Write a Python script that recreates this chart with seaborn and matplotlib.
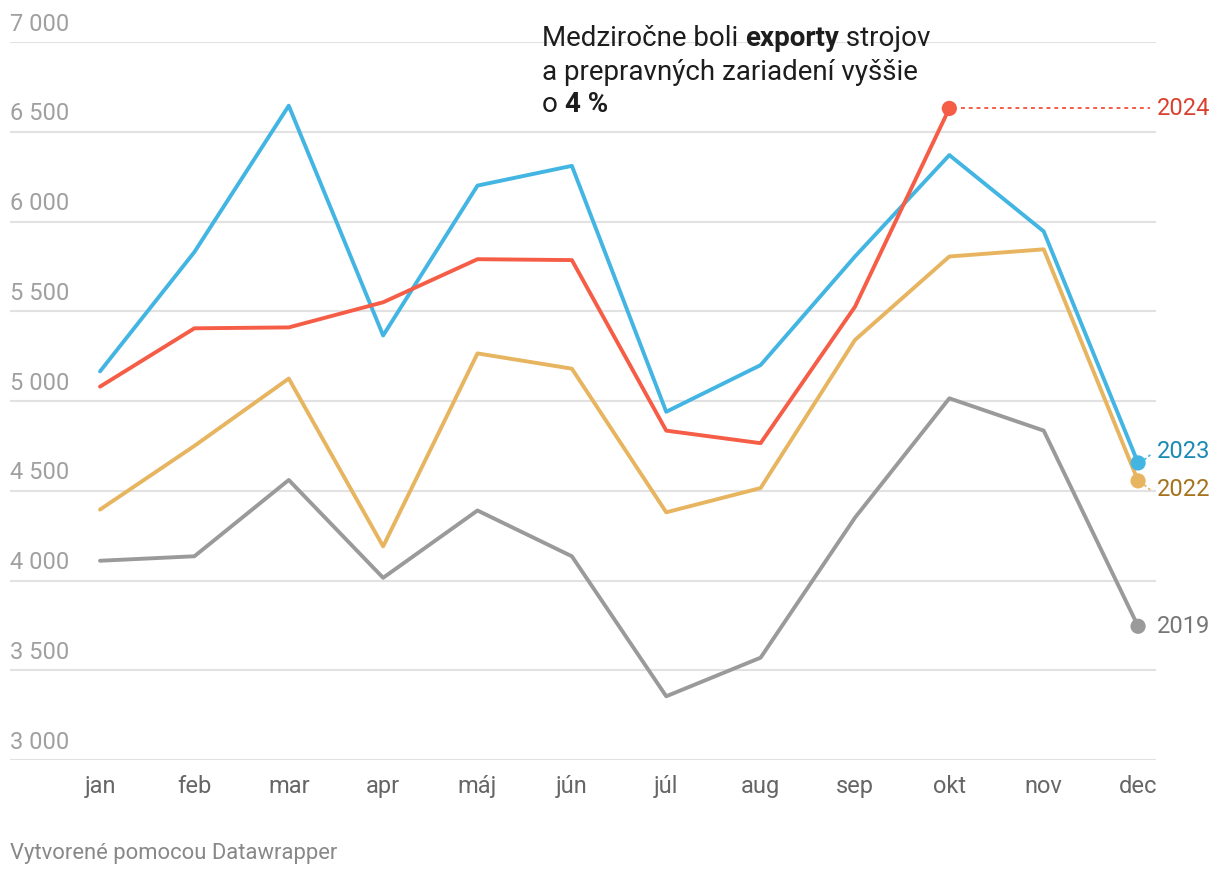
import pandas as pd
import numpy as np
import matplotlib.pyplot as plt
import matplotlib.transforms as mtransforms
import seaborn as sns

sns.set_theme(style='white')
plt.rcParams['font.family'] = ['Roboto', 'DejaVu Sans']

## Data
months = ['jan', 'feb', 'mar', 'apr', 'máj', 'jún', 'júl', 'aug', 'sep', 'okt', 'nov', 'dec']
y2019 = [4110, 4135, 4560, 4015, 4390, 4135, 3355, 3570, 4350, 5015, 4835, 3745]
y2022 = [4395, 4750, 5125, 4190, 5265, 5180, 4380, 4515, 5340, 5805, 5845, 4555]
y2023 = [5165, 5830, 6645, 5365, 6200, 6310, 4940, 5200, 5805, 6370, 5945, 4655]
y2024 = [5080, 5405, 5410, 5550, 5790, 5785, 4835, 4765, 5525, 6630, np.nan, np.nan]
yticks = [3000, 3500, 4000, 4500, 5000, 5500, 6000, 6500, 7000]

colors = {'2019': '#9a9a9a', '2022': '#e7b460', '2023': '#43b5e3', '2024': '#f55d46'}
label_colors = {'2019': '#777777', '2022': '#a6731d', '2023': '#1a8ab5', '2024': '#d9412f'}

rows = []
for year, vals in [('2019', y2019), ('2022', y2022), ('2023', y2023), ('2024', y2024)]:
    for i, v in enumerate(vals):
        rows.append({'month': i, 'value': v, 'year': year})
df = pd.DataFrame(rows).dropna()

fig = plt.figure(figsize=(12.2, 8.76), dpi=100)
ax = fig.add_axes([10 / 1220, 116 / 876, 1146 / 1220, 718 / 876])

# gridlines
for t in yticks:
    ax.axhline(t, color='#e2e2e2', lw=1.5, zorder=0)

sns.lineplot(data=df, x='month', y='value', hue='year', palette=colors,
             hue_order=['2019', '2022', '2023', '2024'], lw=2.8, ax=ax,
             legend=False, clip_on=False, zorder=3)

ax.set_xlim(-0.954, 11.19)
ax.set_ylim(3000, 7000)
ax.axis('off')

# y tick labels above gridlines
trans = mtransforms.blended_transform_factory(ax.transAxes, ax.transData)
for t in yticks:
    lab = f'{t:,}'.replace(',', ' ')
    ax.text(0, t + 35, lab, transform=trans, ha='left', va='bottom',
            fontsize=17, color='#a0a0a0')

# x tick labels
for i, m in enumerate(months):
    ax.text(i, 2855, m, ha='center', va='center', fontsize=17, color='#666666',
            clip_on=False)

# end points
ends = {'2019': (11, y2019[11]), '2022': (11, y2022[11]),
        '2023': (11, y2023[11]), '2024': (9, y2024[9])}
for yr, (xi, v) in ends.items():
    ax.scatter([xi], [v], s=120, color=colors[yr], zorder=5, clip_on=False,
               edgecolor='none')

# 2024 dotted leader
ax.plot([9.12, 11.13], [y2024[9], y2024[9]], ls=(0, (2, 2)), lw=1.4,
        color=colors['2024'], clip_on=False, zorder=2)
ax.text(11.2, y2024[9], '2024', fontsize=17, color=label_colors['2024'],
        va='center', ha='left')

# small connectors for 2023 / 2022
ax.plot([11.06, 11.13], [4670, 4700], lw=1.2, ls=(0, (2, 1.5)), color=colors['2023'], clip_on=False)
ax.plot([11.06, 11.13], [4535, 4505], lw=1.2, ls=(0, (2, 1.5)), color=colors['2022'], clip_on=False)
ax.text(11.2, 4720, '2023', fontsize=17, color=label_colors['2023'], va='center', ha='left')
ax.text(11.2, 4505, '2022', fontsize=17, color=label_colors['2022'], va='center', ha='left')
ax.text(11.2, y2019[11], '2019', fontsize=17, color=label_colors['2019'], va='center', ha='left')

# annotation, mixed regular / bold pieces
renderer = fig.canvas.get_renderer()
note_lines = [
    [('Medziročne boli ', 'normal'), ('exporty', 'bold'), (' strojov', 'normal')],
    [('a prepravných zariadení vyššie', 'normal')],
    [('o ', 'normal'), ('4 %', 'bold')],
]
note_y = [38, 72, 105]
for parts, py in zip(note_lines, note_y):
    px = 542
    for txt, w in parts:
        t = fig.text(px / 1220, 1 - py / 876, txt, fontsize=20, fontweight=w,
                     color='#1d1d1d', va='center', ha='left')
        bb = t.get_window_extent(renderer)
        px += bb.width

# footer
fig.text(10 / 1220, 1 - 853 / 876, 'Vytvorené pomocou Datawrapper', fontsize=15.8,
         color='#888888', va='center', ha='left')

plt.savefig('out.png', dpi=100, facecolor='white')
